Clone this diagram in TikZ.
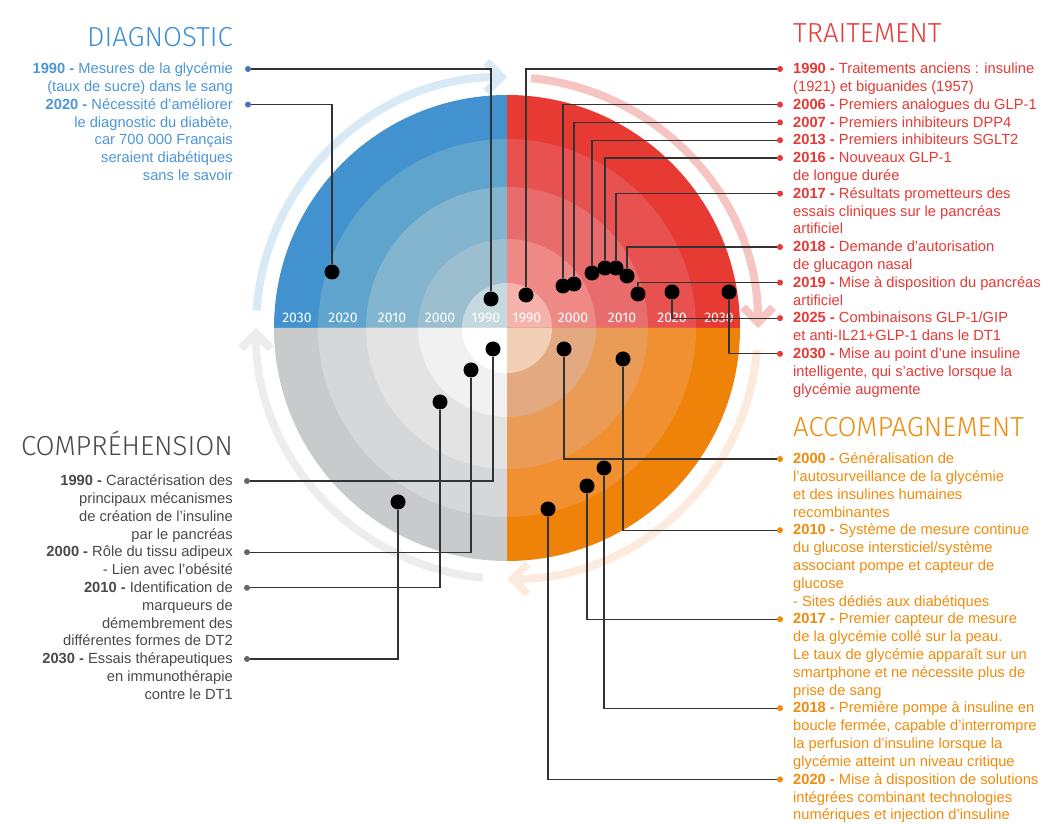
\documentclass[tikz,border=0pt]{standalone}
\usepackage{fontspec}
\setmainfont{Liberation Sans}
\IfFontExistsTF{Fira Sans Light}{\newfontfamily\titlefont{Fira Sans Light}}{\newfontfamily\titlefont{Fira Sans}}
\newfontfamily\yearfont{Fira Sans}
\usetikzlibrary{arrows.meta}
\definecolor{bq1}{HTML}{4292CF}\definecolor{bq2}{HTML}{5FA4CD}\definecolor{bq3}{HTML}{84B5CF}\definecolor{bq4}{HTML}{9BBFCF}\definecolor{bq5}{HTML}{C6D9E1}
\definecolor{rq1}{HTML}{E63A32}\definecolor{rq2}{HTML}{E75250}\definecolor{rq3}{HTML}{E96C6C}\definecolor{rq4}{HTML}{EF8985}\definecolor{rq5}{HTML}{F5B3AC}
\definecolor{gq1}{HTML}{C8CACB}\definecolor{gq2}{HTML}{D5D7D8}\definecolor{gq3}{HTML}{E3E3E3}\definecolor{gq4}{HTML}{F1F1F1}\definecolor{gq5}{HTML}{FFFFFF}
\definecolor{oq1}{HTML}{EF8209}\definecolor{oq2}{HTML}{F09030}\definecolor{oq3}{HTML}{EA9C56}\definecolor{oq4}{HTML}{E3A981}\definecolor{oq5}{HTML}{F2D0B7}
\definecolor{arcb}{HTML}{D7EAF6}\definecolor{arcr}{HTML}{F7C5C1}\definecolor{arco}{HTML}{FCEBDD}\definecolor{arcg}{HTML}{EDEDED}
\definecolor{tblue}{HTML}{4C96D7}\definecolor{ttblue}{HTML}{3D8FD4}\definecolor{mblue}{HTML}{4A6FBD}
\definecolor{tred}{HTML}{E53A35}
\definecolor{tgray}{HTML}{4A4A4A}\definecolor{mgray}{HTML}{666666}
\definecolor{torange}{HTML}{F08C0C}
\definecolor{leadc}{HTML}{333333}
\newcommand\blockL[1]{\vtop{\halign{##\hfil\cr#1\crcr}}}
\newcommand\blockR[1]{\vtop{\halign{\hfil##\cr#1\crcr}}}
\tikzset{
 dotn/.style={circle, fill=black, minimum size=15pt, inner sep=0pt},
 mk/.style={circle, fill=#1, minimum size=6pt, inner sep=0pt},
 leader/.style={draw=leadc, line width=1.2pt},
 yr/.style={text=white, font=\yearfont\fontsize{14}{14}\selectfont, anchor=base, inner sep=0pt},
 txt/.style={inner sep=0pt, font=\fontsize{14.7}{17.8}\selectfont},
 txtR/.style={txt, anchor=base west},
 txtL/.style={txt, anchor=base east},
 ttl/.style={inner sep=0pt, font=\titlefont\fontsize{27.5}{27.5}\selectfont},
 cyc/.style={line width=8pt, -{Straight Barb[length=15pt,width=30pt]}}
}
\newcommand\quadr[6]{%
 \fill[#2] (0,0) -- (#1:233) arc[start angle=#1, end angle=#1+90, radius=233] -- cycle;
 \fill[#3] (0,0) -- (#1:189) arc[start angle=#1, end angle=#1+90, radius=189] -- cycle;
 \fill[#4] (0,0) -- (#1:141) arc[start angle=#1, end angle=#1+90, radius=141] -- cycle;
 \fill[#5] (0,0) -- (#1:89) arc[start angle=#1, end angle=#1+90, radius=89] -- cycle;
 \fill[#6] (0,0) -- (#1:45) arc[start angle=#1, end angle=#1+90, radius=45] -- cycle;}
\begin{document}
\begin{tikzpicture}[x=1pt,y=1pt]
\useasboundingbox (0,0) rectangle (1056,824);
\fill[white] (0,0) rectangle (1056,824);
\begin{scope}[shift={(507,496)}]
 \quadr{90}{bq1}{bq2}{bq3}{bq4}{bq5}
 \quadr{0}{rq1}{rq2}{rq3}{rq4}{rq5}
 \quadr{180}{gq1}{gq2}{gq3}{gq4}{gq5}
 \quadr{270}{oq1}{oq2}{oq3}{oq4}{oq5}
 \draw[cyc, arcb] (176:251) arc[start angle=176, end angle=90, radius=251];
 \draw[cyc, arcr] (84.5:251) arc[start angle=84.5, end angle=0, radius=251];
 \draw[cyc, arco] (-5:251) arc[start angle=-5, end angle=-90, radius=251];
 \draw[cyc, arcg] (-95.5:251) arc[start angle=-95.5, end angle=-180, radius=251];
\end{scope}
% year labels
\node[yr] (yl2030) at (297,501) {2030};
\node[yr] (yl2020) at (343,501) {2020};
\node[yr] (yl2010) at (392,501) {2010};
\node[yr] (yl2000) at (440,501) {2000};
\node[yr] (yl1990) at (486,501) {1990};
\node[yr] (yr1990) at (527,501) {1990};
\node[yr] (yr2000) at (573,501) {2000};
\node[yr] (yr2010) at (622,501) {2010};
\node[yr] (yr2020) at (672,501) {2020};
\node[yr] (yr2030) at (719,501) {2030};
% dots
\node[dotn] (db1990) at (491,525) {};
\node[dotn] (db2020) at (332,552) {};
\node[dotn] (dr1990) at (526,529) {};
\node[dotn] (dr2006) at (563,538) {};
\node[dotn] (dr2007) at (574,540) {};
\node[dotn] (dr2013) at (592,551) {};
\node[dotn] (dr2016) at (605,556) {};
\node[dotn] (dr2017) at (616,556) {};
\node[dotn] (dr2018) at (627,548) {};
\node[dotn] (dr2019) at (638,530) {};
\node[dotn] (dr2025) at (672,532) {};
\node[dotn] (dr2030) at (729,532) {};
\node[dotn] (dg1990) at (493,475) {};
\node[dotn] (dg2000) at (471,454) {};
\node[dotn] (dg2010) at (440,422) {};
\node[dotn] (dg2030) at (398,322) {};
\node[dotn] (do2000) at (564,475) {};
\node[dotn] (do2010) at (623,465) {};
\node[dotn] (do2017) at (587,338) {};
\node[dotn] (do2018) at (604,356) {};
\node[dotn] (do2020) at (548,315) {};
% markers
\node[mk=mblue] (mb1990) at (248,755) {};
\node[mk=mblue] (mb2020) at (248,719.4) {};
\node[mk=tred] (mr1990) at (780,755) {};
\node[mk=tred] (mr2006) at (780,719.4) {};
\node[mk=tred] (mr2007) at (780,701.6) {};
\node[mk=tred] (mr2013) at (780,683.8) {};
\node[mk=tred] (mr2016) at (780,666) {};
\node[mk=tred] (mr2017) at (780,630.4) {};
\node[mk=tred] (mr2018) at (780,577) {};
\node[mk=tred] (mr2019) at (780,541.4) {};
\node[mk=tred] (mr2025) at (780,505.8) {};
\node[mk=tred] (mr2030) at (780,470.2) {};
\node[mk=mgray] (mg1990) at (247,343) {};
\node[mk=mgray] (mg2000) at (247,271.8) {};
\node[mk=mgray] (mg2010) at (247,236.2) {};
\node[mk=mgray] (mg2030) at (247,165) {};
\node[mk=torange] (mo2000) at (780,365) {};
\node[mk=torange] (mo2010) at (780,293.8) {};
\node[mk=torange] (mo2017) at (780,204.8) {};
\node[mk=torange] (mo2018) at (780,115.8) {};
\node[mk=torange] (mo2020) at (780,44.6) {};
% leaders
\foreach \n in {b1990,b2020,r1990,r2006,r2007,r2013,r2016,r2017,r2018,r2019,r2025,r2030,g1990,g2000,g2010,g2030,o2000,o2010,o2017,o2018,o2020}
 {\draw[leader] (d\n) |- (m\n);}
% titles
\node[ttl, text=ttblue, anchor=base east] (tdiag) at (233,777) {DIAGNOSTIC};
\node[ttl, text=tred, anchor=base west] (ttrait) at (793,781) {TRAITEMENT};
\node[ttl, text=tgray, anchor=base east] (tcomp) at (233,368) {COMPRÉHENSION};
\node[ttl, text=torange, anchor=base west] (tacc) at (793,387) {ACCOMPAGNEMENT};
% diagnostic
\node[txtL, text=tblue] (xb1990) at (233,750.2) {\blockR{\textbf{1990 -} Mesures de la glycémie\cr (taux de sucre) dans le sang}};
\node[txtL, text=tblue] (xb2020) at (233,714.6) {\blockR{\textbf{2020 -} Nécessité d'améliorer\cr le diagnostic du diabète,\cr car 700 000 Français\cr seraient diabétiques\cr sans le savoir}};
% traitement
\node[txtR, text=tred] (xr1990) at (793,750.2) {\blockL{\textbf{1990 -} Traitements anciens : insuline\cr (1921) et biguanides (1957)}};
\node[txtR, text=tred] (xr2006) at (793,714.6) {\blockL{\textbf{2006 -} Premiers analogues du GLP-1}};
\node[txtR, text=tred] (xr2007) at (793,696.8) {\blockL{\textbf{2007 -} Premiers inhibiteurs DPP4}};
\node[txtR, text=tred] (xr2013) at (793,679.0) {\blockL{\textbf{2013 -} Premiers inhibiteurs SGLT2}};
\node[txtR, text=tred] (xr2016) at (793,661.2) {\blockL{\textbf{2016 -} Nouveaux GLP-1\cr de longue durée}};
\node[txtR, text=tred] (xr2017) at (793,625.6) {\blockL{\textbf{2017 -} Résultats prometteurs des\cr essais cliniques sur le pancréas\cr artificiel}};
\node[txtR, text=tred] (xr2018) at (793,572.2) {\blockL{\textbf{2018 -} Demande d'autorisation\cr de glucagon nasal}};
\node[txtR, text=tred] (xr2019) at (793,536.6) {\blockL{\textbf{2019 -} Mise à disposition du pancréas\cr artificiel}};
\node[txtR, text=tred] (xr2025) at (793,501.0) {\blockL{\textbf{2025 -} Combinaisons GLP-1/GIP\cr et anti-IL21+GLP-1 dans le DT1}};
\node[txtR, text=tred] (xr2030) at (793,465.4) {\blockL{\textbf{2030 -} Mise au point d'une insuline\cr intelligente, qui s'active lorsque la\cr glycémie augmente}};
% comprehension
\node[txtL, text=tgray] (xg1990) at (233,338.2) {\blockR{\textbf{1990 -} Caractérisation des\cr principaux mécanismes\cr de création de l'insuline\cr par le pancréas}};
\node[txtL, text=tgray] (xg2000) at (233,267.0) {\blockR{\textbf{2000 -} Rôle du tissu adipeux\cr - Lien avec l'obésité}};
\node[txtL, text=tgray] (xg2010) at (233,231.4) {\blockR{\textbf{2010 -} Identification de\cr marqueurs de\cr démembrement des\cr différentes formes de DT2}};
\node[txtL, text=tgray] (xg2030) at (233,160.2) {\blockR{\textbf{2030 -} Essais thérapeutiques\cr en immunothérapie\cr contre le DT1}};
% accompagnement
\node[txtR, text=torange] (xo2000) at (793,360.2) {\blockL{\textbf{2000 -} Généralisation de\cr l'autosurveillance de la glycémie\cr et des insulines humaines\cr recombinantes}};
\node[txtR, text=torange] (xo2010) at (793,289.0) {\blockL{\textbf{2010 -} Système de mesure continue\cr du glucose intersticiel/système\cr associant pompe et capteur de\cr glucose\cr - Sites dédiés aux diabétiques}};
\node[txtR, text=torange] (xo2017) at (793,200.0) {\blockL{\textbf{2017 -} Premier capteur de mesure\cr de la glycémie collé sur la peau.\cr Le taux de glycémie apparaît sur un\cr smartphone et ne nécessite plus de\cr prise de sang}};
\node[txtR, text=torange] (xo2018) at (793,111.0) {\blockL{\textbf{2018 -} Première pompe à insuline en\cr boucle fermée, capable d'interrompre\cr la perfusion d'insuline lorsque la\cr glycémie atteint un niveau critique}};
\node[txtR, text=torange] (xo2020) at (793,39.8) {\blockL{\textbf{2020 -} Mise à disposition de solutions\cr intégrées combinant technologies\cr numériques et injection d'insuline}};
\end{tikzpicture}
\end{document}
